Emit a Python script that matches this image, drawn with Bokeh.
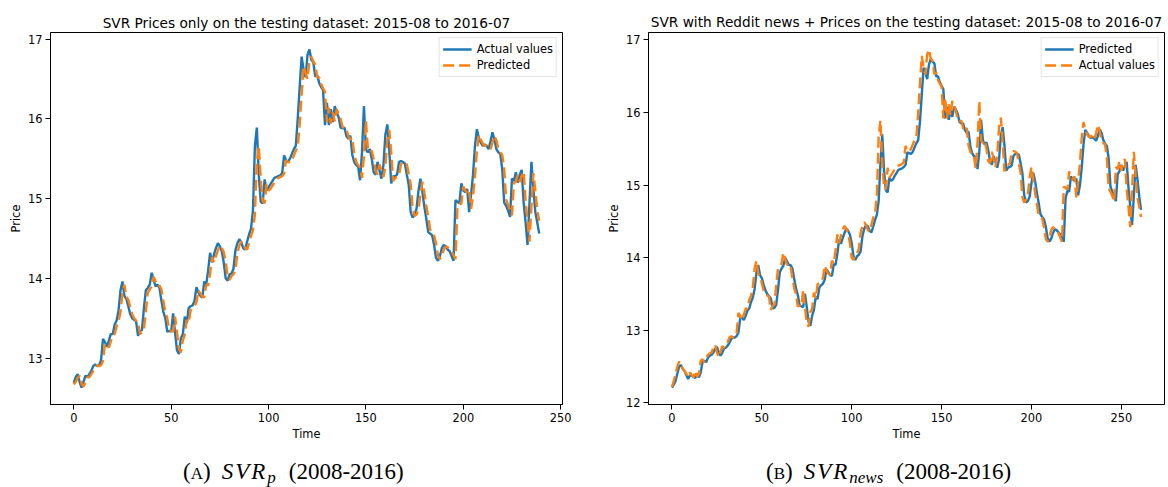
from bokeh.plotting import figure
from bokeh.layouts import row, column
from bokeh.models import Range1d, FixedTicker, Legend, LegendItem, Div
from bokeh.embed import file_html
from bokeh.resources import INLINE

# Daily closing prices over the test window (2015-08 .. 2016-07).
# The prices-only model's window starts 22 sessions after the news model's.
news_lead_in = [
    12.22, 12.30, 12.40, 12.50, 12.57, 12.52, 12.47, 12.44, 12.40, 12.36,
    12.42, 12.38, 12.35, 12.44, 12.36, 12.40, 12.58, 12.60, 12.56, 12.62,
    12.66, 12.68,
]

svr_p_actual = [
    12.69, 12.76, 12.80, 12.70, 12.63, 12.70, 12.78, 12.76, 12.80, 12.84,
    12.90, 12.92, 12.90, 12.91, 12.97, 13.24, 13.20, 13.14, 13.22, 13.30,
    13.30, 13.42, 13.47, 13.60, 13.85, 13.96, 13.78, 13.74, 13.65, 13.55,
    13.50, 13.48, 13.46, 13.28, 13.34, 13.35, 13.62, 13.85, 13.88, 13.92,
    14.07, 13.98, 13.90, 13.92, 13.88, 13.72, 13.58, 13.50, 13.33, 13.34,
    13.33, 13.56, 13.32, 13.10, 13.05, 13.25, 13.30, 13.52, 13.44, 13.63,
    13.65, 13.66, 13.72, 13.89, 13.82, 13.78, 13.76, 13.96, 13.92, 14.10,
    14.32, 14.20, 14.30, 14.38, 14.44, 14.40, 14.34, 14.20, 14.00, 13.97,
    14.05, 14.06, 14.12, 14.35, 14.44, 14.49, 14.45, 14.38, 14.36, 14.46,
    14.55, 14.62, 14.85, 15.66, 15.89, 15.30, 14.96, 14.94, 15.24, 15.10,
    15.14, 15.18, 15.22, 15.26, 15.27, 15.28, 15.29, 15.32, 15.54, 15.48,
    15.46, 15.50, 15.56, 15.62, 15.66, 16.00, 16.40, 16.78, 16.62, 16.52,
    16.80, 16.87, 16.74, 16.71, 16.53, 16.55, 16.45, 16.40, 16.36, 15.92,
    16.20, 15.92, 16.12, 15.96, 16.16, 16.08, 16.02, 15.89, 15.88, 15.89,
    15.78, 15.75, 15.79, 15.55, 15.46, 15.42, 15.40, 15.23, 15.58, 16.16,
    15.62, 15.58, 15.62, 15.50, 15.33, 15.30, 15.46, 15.35, 15.25, 15.42,
    15.80, 15.93, 15.60, 15.19, 15.28, 15.28, 15.30, 15.46, 15.47, 15.46,
    15.44, 15.30, 15.17, 14.83, 14.76, 14.80, 14.87, 15.10, 15.25, 15.08,
    14.90, 14.75, 14.58, 14.56, 14.54, 14.42, 14.26, 14.22, 14.28, 14.38,
    14.42, 14.40, 14.36, 14.34, 14.28, 14.22, 14.98, 14.96, 14.94, 15.19,
    15.10, 15.08, 15.12, 14.83, 15.05, 15.30, 15.66, 15.87, 15.76, 15.70,
    15.66, 15.68, 15.66, 15.62, 15.72, 15.83, 15.74, 15.62, 15.58, 15.56,
    15.37, 14.95, 14.91, 14.85, 14.77, 15.25, 15.22, 15.33, 15.20, 15.30,
    15.36, 14.95, 14.70, 14.42, 14.95, 15.46, 15.12, 14.83, 14.70, 14.56,
]

svr_p_predicted = [
    12.67, 12.70, 12.75, 12.78, 12.68, 12.64, 12.70, 12.76, 12.76, 12.80,
    12.84, 12.89, 12.91, 12.90, 12.91, 12.96, 13.18, 13.18, 13.13, 13.21,
    13.28, 13.30, 13.40, 13.46, 13.58, 13.82, 13.92, 13.77, 13.73, 13.64,
    13.55, 13.50, 13.47, 13.45, 13.30, 13.32, 13.35, 13.58, 13.82, 13.86,
    13.90, 14.02, 13.96, 13.90, 13.91, 13.86, 13.72, 13.58, 13.50, 13.35,
    13.34, 13.33, 13.52, 13.33, 13.12, 13.07, 13.22, 13.29, 13.48, 13.44,
    13.60, 13.63, 13.65, 13.70, 13.85, 13.81, 13.77, 13.76, 13.92, 13.91,
    14.06, 14.27, 14.20, 14.28, 14.35, 14.41, 14.38, 14.33, 14.21, 14.03,
    13.98, 14.03, 14.05, 14.10, 14.31, 14.41, 14.46, 14.44, 14.38, 14.36,
    14.44, 14.53, 14.60, 14.80, 15.45, 15.66, 15.25, 14.97, 14.94, 15.18,
    15.10, 15.12, 15.16, 15.20, 15.24, 15.26, 15.27, 15.28, 15.31, 15.48,
    15.46, 15.45, 15.48, 15.54, 15.60, 15.65, 15.92, 16.30, 16.66, 16.58,
    16.50, 16.72, 16.78, 16.72, 16.68, 16.52, 16.52, 16.44, 16.38, 16.34,
    15.96, 16.14, 15.94, 16.08, 15.97, 16.12, 16.06, 16.00, 15.90, 15.87,
    15.87, 15.78, 15.74, 15.76, 15.56, 15.46, 15.42, 15.39, 15.26, 15.52,
    15.98, 15.64, 15.58, 15.60, 15.50, 15.35, 15.30, 15.43, 15.35, 15.27,
    15.40, 15.74, 15.86, 15.58, 15.22, 15.26, 15.27, 15.29, 15.43, 15.46,
    15.45, 15.43, 15.31, 15.18, 14.88, 14.78, 14.80, 14.86, 15.06, 15.21,
    15.08, 14.91, 14.77, 14.61, 14.57, 14.54, 14.44, 14.29, 14.24, 14.28,
    14.36, 14.40, 14.39, 14.36, 14.34, 14.29, 14.24, 14.88, 14.94, 14.93,
    15.15, 15.10, 15.08, 15.11, 14.87, 15.03, 15.27, 15.60, 15.80, 15.74,
    15.69, 15.66, 15.67, 15.65, 15.62, 15.70, 15.79, 15.73, 15.63, 15.58,
    15.55, 15.38, 14.99, 14.92, 14.86, 14.79, 15.19, 15.21, 15.30, 15.21,
    15.28, 15.34, 14.98, 14.72, 14.46, 14.90, 15.32, 15.10, 14.86, 14.72,
]

svr_news_predicted = [
    12.21, 12.25, 12.30, 12.40, 12.50, 12.52, 12.47, 12.44, 12.38, 12.33,
    12.38, 12.37, 12.36, 12.34, 12.40, 12.35, 12.42, 12.56, 12.58, 12.56,
    12.62, 12.65,
    12.66, 12.69, 12.74, 12.77, 12.70, 12.65, 12.69, 12.75, 12.76, 12.79,
    12.83, 12.88, 12.90, 12.90, 12.92, 12.97, 13.17, 13.17, 13.14, 13.20,
    13.27, 13.30, 13.39, 13.45, 13.57, 13.79, 13.90, 13.76, 13.72, 13.63,
    13.55, 13.50, 13.47, 13.44, 13.30, 13.31, 13.35, 13.56, 13.80, 13.85,
    13.89, 14.00, 13.95, 13.90, 13.90, 13.85, 13.71, 13.58, 13.49, 13.35,
    13.33, 13.32, 13.50, 13.32, 13.12, 13.06, 13.20, 13.28, 13.46, 13.43,
    13.59, 13.62, 13.64, 13.70, 13.84, 13.80, 13.76, 13.75, 13.91, 13.90,
    14.05, 14.25, 14.19, 14.27, 14.34, 14.40, 14.37, 14.32, 14.20, 14.02,
    13.97, 14.02, 14.04, 14.09, 14.30, 14.40, 14.45, 14.43, 14.37, 14.35,
    14.43, 14.52, 14.59, 14.78, 15.30, 15.70, 15.20, 14.93, 14.90, 15.10,
    15.06, 15.08, 15.13, 15.17, 15.21, 15.22, 15.23, 15.25, 15.28, 15.45,
    15.44, 15.43, 15.46, 15.52, 15.58, 15.62, 15.88, 16.25, 16.62, 16.55,
    16.46, 16.66, 16.74, 16.70, 16.68, 16.50, 16.50, 16.42, 16.37, 16.32,
    15.92, 16.08, 15.90, 16.04, 15.94, 16.08, 16.04, 15.98, 15.87, 15.85,
    15.85, 15.76, 15.72, 15.74, 15.54, 15.44, 15.40, 15.37, 15.22, 15.45,
    15.90, 15.62, 15.56, 15.59, 15.48, 15.33, 15.28, 15.40, 15.32, 15.24,
    15.36, 15.68, 15.80, 15.55, 15.20, 15.24, 15.25, 15.27, 15.40, 15.43,
    15.43, 15.42, 15.30, 15.16, 14.86, 14.76, 14.78, 14.84, 15.02, 15.17,
    15.06, 14.90, 14.76, 14.60, 14.56, 14.53, 14.43, 14.27, 14.22, 14.26,
    14.34, 14.39, 14.38, 14.35, 14.32, 14.27, 14.22, 14.82, 14.92, 14.91,
    15.12, 15.08, 15.06, 15.09, 14.86, 15.00, 15.24, 15.56, 15.76, 15.72,
    15.68, 15.65, 15.66, 15.64, 15.61, 15.68, 15.77, 15.72, 15.62, 15.57,
    15.54, 15.36, 14.98, 14.91, 14.85, 14.78, 15.15, 15.19, 15.28, 15.20,
    15.26, 15.32, 14.97, 14.70, 14.45, 14.85, 15.28, 15.08, 14.84, 14.66,
]

svr_news_actual = news_lead_in + svr_p_actual

x_ticks = [0, 50, 100, 150, 200, 250]
y_ticks_p = [13, 14, 15, 16, 17]
y_ticks_news = [12, 13, 14, 15, 16, 17]

BLUE = "#1f77b4"
ORANGE = "#ff7f0e"
SANS = "DejaVu Sans"
TOP_H = 447
PAGE_H = 487


def panel(title, solid, dashed, solid_label, dashed_label, y_ticks, width,
          b_left, b_right, b_top, b_bottom, title_standoff):
    n = len(solid)
    x = list(range(n))
    vals = solid + dashed
    lo, hi = min(vals), max(vals)
    pad = 0.05 * (hi - lo)
    p = figure(width=width, height=TOP_H, output_backend="svg",
               toolbar_location=None,
               x_range=Range1d(-0.05 * (n - 1), 1.05 * (n - 1)),
               y_range=Range1d(lo - pad, hi + pad),
               min_border_left=b_left, min_border_right=b_right,
               min_border_top=b_top, min_border_bottom=b_bottom)
    p.title.text = title
    p.title.align = "center"
    p.title.text_font = SANS
    p.title.text_font_size = "13.7px"
    p.title.text_font_style = "normal"
    p.title.text_color = "black"
    p.title.standoff = title_standoff
    p.background_fill_color = "white"
    p.border_fill_color = "white"
    p.outline_line_color = "black"
    p.outline_line_alpha = 1
    p.outline_line_width = 1
    p.xgrid.visible = False
    p.ygrid.visible = False

    for ax in (p.xaxis[0], p.yaxis[0]):
        ax.axis_line_color = "black"
        ax.major_tick_line_color = "black"
        ax.minor_tick_line_color = None
        ax.major_tick_out = 5
        ax.major_tick_in = 0
        ax.major_label_text_font = SANS
        ax.major_label_text_font_size = "11.4px"
        ax.major_label_text_color = "black"
        ax.major_label_standoff = 3
        ax.axis_label_text_font = SANS
        ax.axis_label_text_font_size = "11.4px"
        ax.axis_label_text_font_style = "normal"
        ax.axis_label_text_color = "black"
        ax.axis_label_standoff = 2
    p.xaxis[0].ticker = FixedTicker(ticks=x_ticks)
    p.yaxis[0].ticker = FixedTicker(ticks=y_ticks)
    p.xaxis[0].axis_label = "Time"
    p.yaxis[0].axis_label = "Price"

    r_solid = p.line(x, solid, line_color=BLUE, line_width=2.4)
    r_dash = p.line(x, dashed, line_color=ORANGE, line_width=2.4,
                    line_dash="11 5")

    legend = Legend(items=[LegendItem(label=solid_label, renderers=[r_solid]),
                           LegendItem(label=dashed_label, renderers=[r_dash])],
                    location="top_right", margin=5, padding=3, spacing=0,
                    glyph_width=29, glyph_height=16, label_height=16,
                    label_standoff=5, label_text_font=SANS,
                    label_text_font_size="11.4px", label_text_color="black",
                    border_line_color="#cccccc", border_line_width=1,
                    background_fill_color="white", background_fill_alpha=0.8)
    p.add_layout(legend)
    return p


left = panel("SVR Prices only on the testing dataset: 2015-08 to 2016-07",
             svr_p_actual, svr_p_predicted, "Actual values", "Predicted",
             y_ticks_p, 600, 50, 38, 32, 42, 4)
right = panel("SVR with Reddit news + Prices on the testing dataset: 2015-08 to 2016-07",
              svr_news_predicted, svr_news_actual, "Predicted", "Actual values",
              y_ticks_news, 568, 48, 4, 29, 43, 5)


def caption_html(left_px, letter, sub, gap_after_sub):
    sub_style = ("font-size:17px;font-style:italic;line-height:0;"
                 "vertical-align:-4px")
    return (
        f'<span style="position:absolute;left:{left_px}px;top:13px;'
        f'font-size:23px;line-height:1;white-space:nowrap">'
        f'(<span style="font-size:17px">{letter}</span>)'
        f'<i style="margin-left:11px;letter-spacing:2px">SVR</i>'
        f'<span style="{sub_style}">{sub}</span>'
        f'<span style="margin-left:{gap_after_sub}px">(2008-2016)</span>'
        f'</span>'
    )


captions = Div(
    text=(
        '<div style="position:relative;width:1168px;height:40px;'
        "font-family:'Liberation Serif',serif;color:#000\">"
        + caption_html(183, "A", "p", 13)
        + caption_html(766, "B", "news", 13)
        + "</div>"
    ),
    width=1168, height=PAGE_H - TOP_H, margin=0,
)

layout = column(row(left, right), captions)
open("out.html", "w").write(file_html(layout, INLINE))
